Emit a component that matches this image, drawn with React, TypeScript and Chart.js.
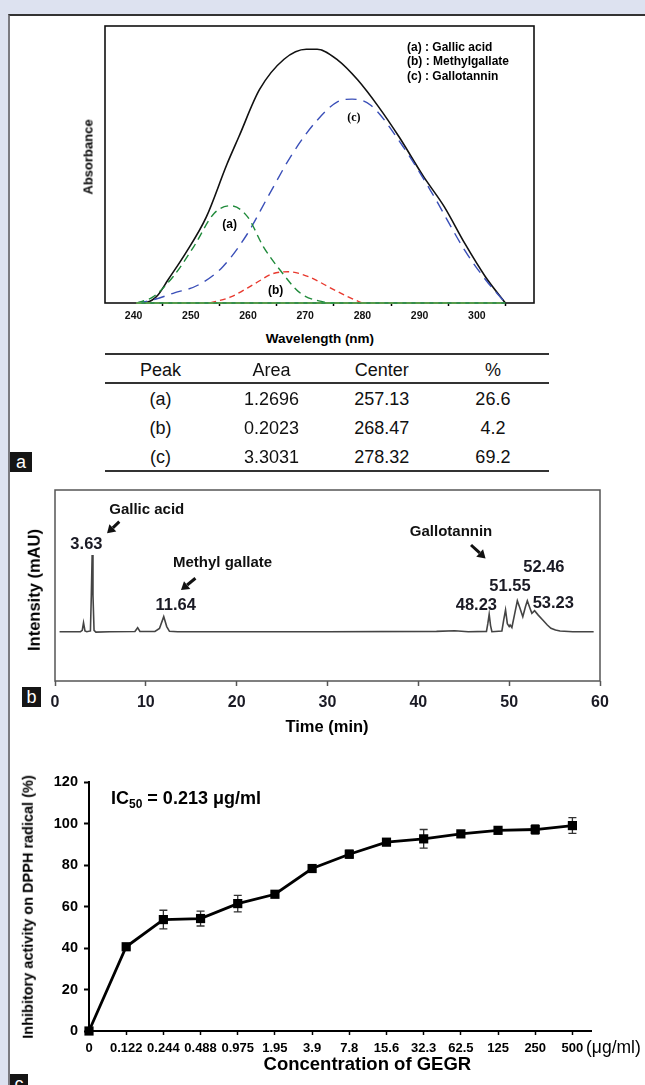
import React, { useEffect, useRef } from 'react';
import { Chart, registerables } from 'chart.js';

Chart.register(...registerables);

const FONT = '"Liberation Sans", Arial, Helvetica, sans-serif';
Chart.defaults.font.family = FONT;

// ---------- Panel a: deconvoluted UV spectrum ----------
const wavelengthTicks = [240, 250, 260, 270, 280, 290, 300];
const wavelengthMarks = [245, 255, 265, 275, 285, 295, 305];

const envelopeNm = [241.9, 243.2, 244.3, 246.0, 249.1, 252.7, 256.3, 258.4, 262.0, 266.3, 270.2, 272.1, 275.7, 279.2, 282.8, 286.4, 290.7, 294.3, 297.9, 301.5, 305.0];
const envelopeAbs = [0, 0.01, 0.03, 0.083, 0.18, 0.31, 0.5, 0.6, 0.77, 0.88, 0.916, 0.916, 0.877, 0.805, 0.709, 0.6, 0.456, 0.348, 0.215, 0.095, 0];

const peakCNm = [240.5, 243.5, 246.9, 251.3, 255.6, 259.9, 263.5, 267.8, 272.1, 275.7, 278.2, 281.4, 287.1, 292.2, 297.9, 301.5, 305.0];
const peakCAbs = [0, 0.012, 0.035, 0.065, 0.131, 0.25, 0.384, 0.54, 0.66, 0.727, 0.736, 0.715, 0.565, 0.396, 0.19, 0.085, 0];

const peakANm = [240.5, 243.4, 246.9, 250.5, 254.1, 257.0, 259.9, 262.7, 265.6, 269.2, 273.5, 275.0];
const peakAAbs = [0, 0.022, 0.095, 0.203, 0.324, 0.351, 0.312, 0.203, 0.119, 0.035, 0.003, 0];

const peakBNm = [253.4, 257.0, 261.3, 264.2, 267.0, 270.6, 274.2, 277.8, 280.0];
const peakBAbs = [0, 0.022, 0.071, 0.105, 0.113, 0.095, 0.057, 0.019, 0];

const baselineNm = [240.5, 305.0];
const baselineAbs = [0, 0];

const tableHeader = ['Peak', 'Area', 'Center', '%'];
const tablePeaks = ['(a)', '(b)', '(c)'];
const tableAreas = ['1.2696', '0.2023', '3.3031'];
const tableCenters = ['257.13', '268.47', '278.32'];
const tablePercents = ['26.6', '4.2', '69.2'];

// ---------- Panel b: HPLC chromatogram ----------
const timeTicks = [0, 10, 20, 30, 40, 50, 60];
const chromTime = [0.5, 2.8, 3.0, 3.14, 3.3, 3.5, 3.9, 4.0, 4.09, 4.18, 4.3, 4.5, 6.0, 8.8, 9.1, 9.35, 11.0, 11.5, 11.97, 12.3, 12.6, 13.5, 30.0, 42.0, 44.0, 45.5, 47.5, 47.65, 47.8, 47.95, 48.1, 49.2, 49.4, 49.6, 49.8, 50.0, 50.1, 50.3, 50.6, 50.9, 51.2, 51.5, 51.8, 52.0, 52.3, 52.5, 52.8, 53.2, 53.7, 54.2, 54.6, 55.1, 55.6, 57.0, 59.3];
const chromIntensity = [25.8, 25.8, 26.5, 30.5, 26.2, 25.8, 26.2, 45, 66, 45, 26.5, 25.6, 25.8, 25.9, 27.9, 25.9, 26.0, 27.5, 33.7, 28.5, 26.0, 25.8, 25.8, 26.0, 26.3, 25.8, 26.0, 30, 34.9, 29, 25.8, 26.2, 32, 37.2, 30, 28.5, 29.3, 28.0, 35, 42, 38, 33.7, 39, 42, 38, 35.4, 36.8, 34.5, 31.9, 29.3, 27.6, 26.7, 26.2, 25.8, 25.8];

const chromNotes = [
  { text: 'Gallic acid', t: 10.1, v: 89.7, kind: 'name' },
  { text: '3.63', t: 3.46, v: 71.6, kind: 'rt' },
  { text: 'Methyl gallate', t: 18.45, v: 61.9, kind: 'name' },
  { text: '11.64', t: 13.29, v: 39.8, kind: 'rt' },
  { text: 'Gallotannin', t: 43.6, v: 77.9, kind: 'name' },
  { text: '48.23', t: 46.39, v: 39.8, kind: 'rt' },
  { text: '51.55', t: 50.09, v: 49.7, kind: 'rt' },
  { text: '52.46', t: 53.82, v: 59.5, kind: 'rt' },
  { text: '53.23', t: 54.86, v: 40.7, kind: 'rt' },
];
const chromArrows = [
  { t1: 7.08, v1: 83.4, t2: 5.73, v2: 77.3 },
  { t1: 15.46, v1: 53.8, t2: 13.87, v2: 47.6 },
  { t1: 45.8, v1: 71.2, t2: 47.4, v2: 64.2 },
];

// ---------- Panel c: DPPH inhibition ----------
const concLabels = ['0', '0.122', '0.244', '0.488', '0.975', '1.95', '3.9', '7.8', '15.6', '32.3', '62.5', '125', '250', '500'];
const inhibition = [0, 40.6, 53.7, 54.2, 61.4, 65.9, 78.3, 85.2, 91.0, 92.6, 95.0, 96.7, 97.1, 99.0];
const inhibitionErr = [0, 1.0, 4.5, 3.6, 4.0, 1.0, 1.0, 1.9, 1.2, 4.5, 1.0, 1.4, 2.2, 3.8];

const curve = (xs: number[], ys: number[]) => xs.map((x, i) => ({ x, y: ys[i] }));

const framePlugin = (color: string, width: number) => ({
  id: 'frame',
  beforeDatasetsDraw(chart: any) {
    const { ctx, chartArea: a } = chart;
    ctx.save();
    ctx.strokeStyle = color;
    ctx.lineWidth = width;
    ctx.strokeRect(a.left, a.top, a.right - a.left, a.bottom - a.top);
    ctx.restore();
  },
});

const chromAnnotationPlugin = {
  id: 'chromNotes',
  afterDatasetsDraw(chart: any) {
    const { ctx, scales } = chart;
    const x = scales.x, y = scales.y;
    ctx.save();
    ctx.textAlign = 'center';
    ctx.textBaseline = 'middle';
    chromNotes.forEach((n) => {
      ctx.font = n.kind === 'name' ? `bold 15px ${FONT}` : `bold 16.5px ${FONT}`;
      ctx.fillStyle = n.kind === 'name' ? '#111' : '#1a1a24';
      ctx.fillText(n.text, x.getPixelForValue(n.t), y.getPixelForValue(n.v));
    });
    ctx.fillStyle = '#111';
    ctx.strokeStyle = '#111';
    chromArrows.forEach((a) => {
      const x1 = x.getPixelForValue(a.t1), y1 = y.getPixelForValue(a.v1);
      const x2 = x.getPixelForValue(a.t2), y2 = y.getPixelForValue(a.v2);
      const ang = Math.atan2(y2 - y1, x2 - x1);
      const hl = 8, hw = 5;
      const bx = x2 - hl * Math.cos(ang), by = y2 - hl * Math.sin(ang);
      ctx.lineWidth = 3;
      ctx.beginPath();
      ctx.moveTo(x1, y1);
      ctx.lineTo(bx, by);
      ctx.stroke();
      ctx.beginPath();
      ctx.moveTo(x2, y2);
      ctx.lineTo(bx + hw * Math.sin(ang), by - hw * Math.cos(ang));
      ctx.lineTo(bx - hw * Math.sin(ang), by + hw * Math.cos(ang));
      ctx.closePath();
      ctx.fill();
    });
    ctx.restore();
  },
};

const errorBarPlugin = {
  id: 'errorBars',
  beforeDatasetsDraw(chart: any) {
    const { ctx, scales } = chart;
    const x = scales.x, y = scales.y;
    ctx.save();
    ctx.strokeStyle = '#333';
    ctx.lineWidth = 1.3;
    inhibition.forEach((m, i) => {
      const e = inhibitionErr[i];
      if (!e) return;
      const px = x.getPixelForValue(i);
      const t = y.getPixelForValue(m + e);
      const b = y.getPixelForValue(m - e);
      ctx.beginPath();
      ctx.moveTo(px, t); ctx.lineTo(px, b);
      ctx.moveTo(px - 4, t); ctx.lineTo(px + 4, t);
      ctx.moveTo(px - 4, b); ctx.lineTo(px + 4, b);
      ctx.stroke();
    });
    ctx.restore();
  },
};

const baseOptions = {
  animation: false as const,
  responsive: false,
  devicePixelRatio: 1,
  events: [] as any[],
};
const noPlugins = { legend: { display: false }, tooltip: { enabled: false } };

function configA(): any {
  const line = (color: string, dash: number[], width: number) => ({
    borderColor: color, borderDash: dash, borderWidth: width, pointRadius: 0,
    cubicInterpolationMode: 'monotone', clip: false, fill: false,
  });
  return {
    type: 'line',
    data: {
      datasets: [
        { data: curve(baselineNm, baselineAbs), ...line('#33a852', [], 1.6) },
        { data: curve(baselineNm, baselineAbs), ...line('#f0883a', [5, 4], 1.3) },
        { data: curve(peakBNm, peakBAbs), ...line('#e8392e', [6, 4], 1.4) },
        { data: curve(peakANm, peakAAbs), ...line('#1f8a3a', [8, 5], 1.4) },
        { data: curve(peakCNm, peakCAbs), ...line('#3a4fb8', [11, 7], 1.4) },
        { data: curve(envelopeNm, envelopeAbs), ...line('#111', [], 1.6) },
      ],
    },
    options: {
      ...baseOptions,
      layout: { padding: { left: 105, top: 26, right: 111, bottom: 0 } },
      plugins: noPlugins,
      scales: {
        x: {
          type: 'linear', min: 235, max: 310,
          afterBuildTicks: (s: any) => {
            s.ticks = [...wavelengthTicks, ...wavelengthMarks].sort((p, q) => p - q).map((v) => ({ value: v }));
          },
          ticks: {
            callback: (v: number) => (wavelengthTicks.includes(v) ? String(v) : ''),
            autoSkip: false, maxRotation: 0, color: '#111', padding: 4,
            font: { size: 10.5, weight: 'bold', family: FONT },
          },
          grid: {
            drawOnChartArea: false, tickLength: 3, tickWidth: 1.5,
            tickColor: (ctx: any) => (ctx.tick && wavelengthMarks.includes(ctx.tick.value) ? '#000' : 'rgba(0,0,0,0)'),
          },
          border: { display: false },
          afterFit: (s: any) => { s.height = 27; },
        },
        y: { display: false, min: 0, max: 1 },
      },
    },
    plugins: [framePlugin('#111', 1.6)],
  };
}

function configB(): any {
  return {
    type: 'line',
    data: {
      datasets: [{
        data: curve(chromTime, chromIntensity), borderColor: '#444', borderWidth: 1.6,
        pointRadius: 0, tension: 0, fill: false,
      }],
    },
    options: {
      ...baseOptions,
      layout: { padding: { left: 55, top: 10, right: 45, bottom: 0 } },
      plugins: noPlugins,
      scales: {
        x: {
          type: 'linear', min: 0, max: 60,
          afterBuildTicks: (s: any) => { s.ticks = timeTicks.map((v) => ({ value: v })); },
          ticks: { color: '#1a1a24', padding: 7, maxRotation: 0, font: { size: 16, weight: 'bold', family: FONT } },
          grid: { drawOnChartArea: false, tickLength: 5, tickColor: '#555', tickWidth: 1.5 },
          border: { display: false },
          afterFit: (s: any) => { s.height = 39; },
        },
        y: { display: false, min: 0, max: 100 },
      },
    },
    plugins: [framePlugin('#555', 1.5), chromAnnotationPlugin],
  };
}

function configC(): any {
  return {
    type: 'line',
    data: {
      datasets: [{
        data: inhibition.map((v, i) => ({ x: i, y: v })),
        borderColor: '#000', borderWidth: 2.8, tension: 0, fill: false, clip: false,
        pointStyle: 'rect', pointRadius: 6.5, pointBackgroundColor: '#000', pointBorderColor: '#000', pointBorderWidth: 0,
      }],
    },
    options: {
      ...baseOptions,
      layout: { padding: { left: 0, top: 22, right: 54, bottom: 0 } },
      plugins: noPlugins,
      scales: {
        x: {
          type: 'linear', min: 0, max: 13.5,
          afterBuildTicks: (s: any) => { s.ticks = concLabels.map((_, i) => ({ value: i })); },
          ticks: {
            callback: (v: number) => concLabels[v] ?? '',
            autoSkip: false, maxRotation: 0, color: '#000', padding: 6,
            font: { size: 13, weight: 'bold', family: FONT },
          },
          grid: { drawOnChartArea: false, tickLength: 4, tickColor: '#000', tickWidth: 1.5 },
          border: { display: true, color: '#000', width: 2 },
          afterFit: (s: any) => { s.height = 54; },
        },
        y: {
          min: 0, max: 120,
          ticks: { stepSize: 20, color: '#000', padding: 6, font: { size: 14.5, weight: 'bold', family: FONT } },
          grid: { drawOnChartArea: false, tickLength: 5, tickColor: '#000', tickWidth: 2 },
          border: { display: true, color: '#000', width: 2 },
          afterFit: (s: any) => { s.width = 89; },
        },
      },
    },
    plugins: [errorBarPlugin],
  };
}

function ChartBox({ make, left, top, width, height }: { make: () => any; left: number; top: number; width: number; height: number }) {
  const ref = useRef<HTMLCanvasElement | null>(null);
  useEffect(() => {
    if (!ref.current) return;
    const chart = new Chart(ref.current, make());
    return () => chart.destroy();
  }, []);
  return (
    <canvas ref={ref} width={width} height={height}
      style={{ position: 'absolute', left, top, width, height, display: 'block' }} />
  );
}

function Txt({ x, y, children, size, weight = 'bold', anchor = 'center', rotate = false, family = FONT, color = '#000' }: any) {
  const tx = anchor === 'center' ? '-50%' : anchor === 'left' ? '0' : '-100%';
  return (
    <div style={{
      position: 'absolute', left: x, top: y, transform: `translate(${tx}, -50%)${rotate ? ' rotate(-90deg)' : ''}`,
      fontFamily: family, fontSize: size, fontWeight: weight, color, lineHeight: 1, whiteSpace: 'nowrap',
    }}>{children}</div>
  );
}

function Letter({ x, y, w, h, ch }: any) {
  return (
    <div style={{
      position: 'absolute', left: x, top: y, width: w, height: h, background: '#151515', color: '#fff',
      fontFamily: FONT, fontSize: 18, lineHeight: `${h}px`, textAlign: 'center',
    }}>{ch}</div>
  );
}

const colX = [160.4, 271.5, 381.8, 492.9];
const rowY = [398.8, 427.8, 457];

export default function App() {
  const rows = tablePeaks.map((p, i) => [p, tableAreas[i], tableCenters[i], tablePercents[i]]);
  return (
    <div style={{ position: 'absolute', left: 0, top: 0, width: 645, height: 1085, background: '#dde2f0', overflow: 'hidden' }}>
      <div style={{
        position: 'absolute', left: 8, top: 14, width: 660, height: 1100, background: '#fff',
        borderTop: '2px solid #333', borderLeft: '2px solid #7a7a80', boxSizing: 'border-box',
      }} />
      {/* Panel a */}
      <ChartBox make={configA} left={0} top={0} width={645} height={330} />
      <Txt x={407} y={46.7} size={12} anchor="left">(a) : Gallic acid</Txt>
      <Txt x={407} y={61.3} size={12} anchor="left">(b) : Methylgallate</Txt>
      <Txt x={407} y={75.9} size={12} anchor="left">(c) : Gallotannin</Txt>
      <Txt x={229.6} y={224} size={12}>(a)</Txt>
      <Txt x={275.6} y={290} size={12}>(b)</Txt>
      <Txt x={353.8} y={116.7} size={12} family='"Liberation Serif", "Times New Roman", serif'>(c)</Txt>
      <Txt x={87.6} y={156.7} size={13} rotate>Absorbance</Txt>
      <Txt x={320} y={339} size={13.5}>Wavelength (nm)</Txt>
      {/* Table */}
      <div style={{ position: 'absolute', left: 105, top: 353, width: 444, height: 2, background: '#333' }} />
      <div style={{ position: 'absolute', left: 105, top: 382, width: 444, height: 1.5, background: '#333' }} />
      <div style={{ position: 'absolute', left: 105, top: 469.5, width: 444, height: 2, background: '#333' }} />
      {tableHeader.map((h, j) => (
        <Txt key={'h' + j} x={colX[j]} y={369.7} size={18} weight="normal" color="#111">{h}</Txt>
      ))}
      {rows.map((r, i) => r.map((c, j) => (
        <Txt key={i + '-' + j} x={colX[j]} y={rowY[i]} size={18} weight="normal" color="#111">{c}</Txt>
      )))}
      <Letter x={10} y={452} w={22} h={20} ch="a" />
      {/* Panel b */}
      <ChartBox make={configB} left={0} top={480} width={645} height={240} />
      <Txt x={34} y={590} size={16.5} rotate>Intensity (mAU)</Txt>
      <Txt x={327} y={726} size={16.5}>Time (min)</Txt>
      <Letter x={22} y={687} w={19} h={20} ch="b" />
      {/* Panel c */}
      <ChartBox make={configC} left={0} top={760} width={645} height={325} />
      <div style={{ position: 'absolute', left: 111, top: 789, fontFamily: FONT, fontWeight: 'bold', fontSize: 18, lineHeight: 1, whiteSpace: 'nowrap' }}>
        IC<sub style={{ fontSize: 12, verticalAlign: '-0.35em' }}>50</sub> = 0.213 μg/ml
      </div>
      <Txt x={28} y={906.7} size={14.5} rotate>Inhibitory activity on DPPH radical (%)</Txt>
      <Txt x={367.4} y={1064} size={18.5}>Concentration of GEGR</Txt>
      <Txt x={586} y={1048.3} size={17.5} weight="normal" anchor="left">(μg/ml)</Txt>
      <Letter x={10} y={1074} w={18} h={20} ch="c" />
    </div>
  );
}
